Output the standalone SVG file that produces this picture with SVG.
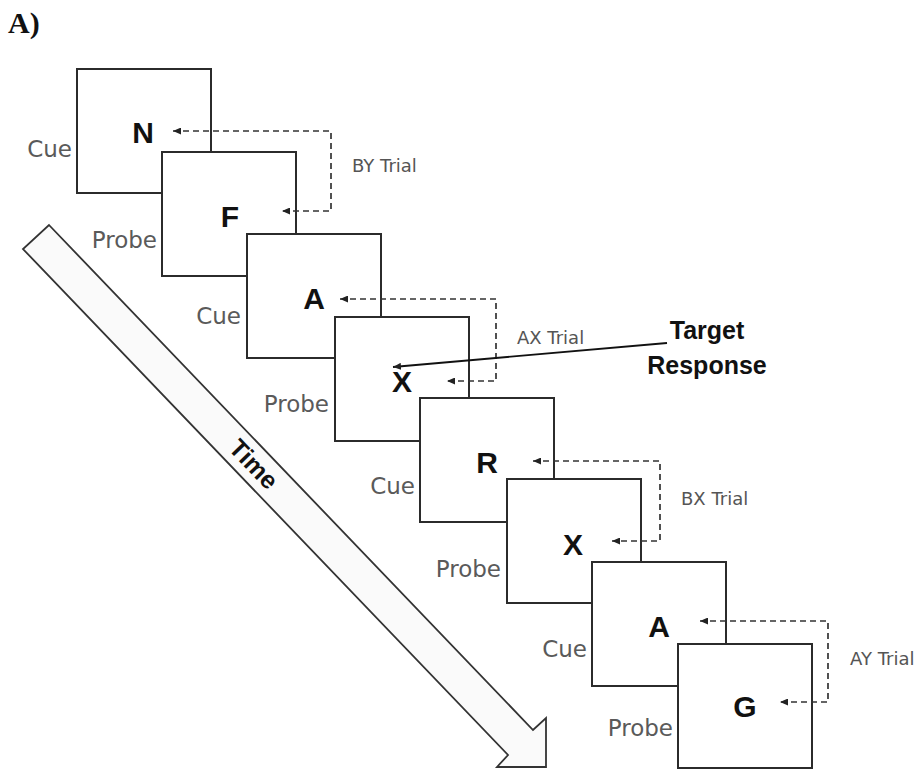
<svg xmlns="http://www.w3.org/2000/svg" width="922" height="772" viewBox="0 0 922 772">
<style>
.box{fill:#fff;stroke:#2b2b2b;stroke-width:2}
.let{font-family:"Liberation Sans",Arial,sans-serif;font-weight:bold;font-size:30px;fill:#111;text-anchor:middle}
.lab{font-family:"DejaVu Sans",sans-serif;font-size:23px;fill:#5a5a5a;text-anchor:end}
.trial{font-family:"DejaVu Sans",sans-serif;font-size:18px;fill:#555}
.dash{fill:none;stroke:#333;stroke-width:1.7;stroke-dasharray:6 4;marker-start:url(#ah);marker-end:url(#ah)}
.tgt{fill:none;stroke:#111;stroke-width:1.8;marker-end:url(#ah)}
.bold{font-family:"Liberation Sans",Arial,sans-serif;font-weight:bold;fill:#111}
</style>
<defs>
<marker id="ah" viewBox="0 0 8 7" refX="8" refY="3.5" markerWidth="8" markerHeight="7" markerUnits="userSpaceOnUse" orient="auto-start-reverse">
<path d="M0,0 L8,3.5 L0,7 z" fill="#222"/>
</marker>
</defs>
<rect width="922" height="772" fill="#fff"/>
<text x="8" y="33" font-family="Liberation Serif,Times New Roman,serif" font-weight="bold" font-size="30" fill="#111">A)</text>
<g id="time-arrow">
<polygon points="49,225 533,730 546,718 546,767 497,767 508,755 23,249" fill="#fafafa" stroke="#333" stroke-width="1.8" stroke-linejoin="miter"/>
<text class="bold" font-size="25" text-anchor="middle" transform="translate(254,464) rotate(46.2)" x="0" y="9">Time</text>
</g>
<g id="n1"><rect class="box" x="77" y="69" width="134" height="124"/><text class="let" x="143" y="143">N</text><text class="lab" x="72" y="157">Cue</text></g>
<g id="n2"><rect class="box" x="162" y="152" width="134" height="124"/><text class="let" x="230" y="227">F</text><text class="lab" x="157" y="248">Probe</text></g>
<g id="n3"><rect class="box" x="247" y="234" width="134" height="124"/><text class="let" x="314" y="309">A</text><text class="lab" x="241" y="324">Cue</text></g>
<g id="n4"><rect class="box" x="335" y="317" width="134" height="124"/><text class="let" x="402" y="392">X</text><text class="lab" x="329" y="412">Probe</text></g>
<g id="n5"><rect class="box" x="420" y="398" width="134" height="124"/><text class="let" x="487" y="473">R</text><text class="lab" x="415" y="494">Cue</text></g>
<g id="n6"><rect class="box" x="507" y="479" width="134" height="124"/><text class="let" x="573" y="555">X</text><text class="lab" x="501" y="577">Probe</text></g>
<g id="n7"><rect class="box" x="592" y="562" width="134" height="124"/><text class="let" x="659" y="637">A</text><text class="lab" x="587" y="657">Cue</text></g>
<g id="n8"><rect class="box" x="678" y="644" width="134" height="124"/><text class="let" x="745" y="717">G</text><text class="lab" x="673" y="736">Probe</text></g>
<g id="connectors">
<path class="dash" d="M173,131 H331 V211 H282"/>
<path class="dash" d="M340,299 H496 V381 H447"/>
<path class="dash" d="M533,461 H660 V541 H612"/>
<path class="dash" d="M700,621 H828 V702 H780"/>
<path class="tgt" d="M667,343 L393,367"/>
</g>
<g id="labels">
<text class="trial" x="352" y="172">BY Trial</text>
<text class="trial" x="517" y="344">AX Trial</text>
<text class="trial" x="681" y="505">BX Trial</text>
<text class="trial" x="850" y="665">AY Trial</text>
<text class="bold" font-size="25" text-anchor="middle" x="707" y="339">Target</text>
<text class="bold" font-size="25" text-anchor="middle" x="707" y="374">Response</text>
</g>
</svg>
